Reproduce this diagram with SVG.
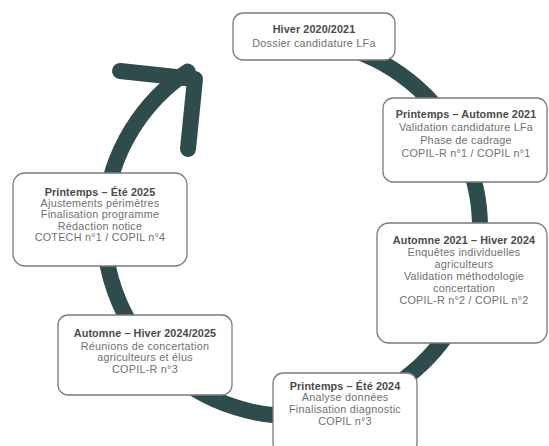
<svg xmlns="http://www.w3.org/2000/svg" width="549" height="446" viewBox="0 0 549 446">
<style>
.ring{fill:none;stroke:#2f4c4c;stroke-width:16;stroke-linecap:round;stroke-linejoin:round}
.box{fill:#fff;stroke:#7a7a7a;stroke-width:1.3}
text{font-family:"Liberation Sans",Arial,sans-serif;font-size:10.8px;letter-spacing:0.25px;fill:#707070;text-anchor:middle}
.h{font-weight:bold;fill:#4a4a4a;letter-spacing:0.1px}
</style>
<rect width="549" height="446" fill="#fff"/>
<g id="connectors">
<path class="ring" d="M 337.5 45.6 A 188 188 0 1 1 187.7 71.6"/>
<polyline class="ring" points="120,71 195,79 188,149"/>
</g>
<g id="n1">
<rect class="box" x="233" y="13" width="162" height="47" rx="10"/>
<text class="h" x="314" y="33">Hiver 2020/2021</text>
<text x="314" y="47">Dossier candidature LFa</text>
</g>
<g id="n2">
<rect class="box" x="383" y="98" width="164" height="84" rx="10"/>
<text class="h" x="466" y="118">Printemps – Automne 2021</text>
<text x="466" y="131">Validation candidature LFa</text>
<text x="466" y="144">Phase de cadrage</text>
<text x="466" y="157">COPIL-R n°1 / COPIL n°1</text>
</g>
<g id="n3">
<rect class="box" x="377" y="223" width="170" height="120" rx="12"/>
<text class="h" x="464" y="244">Automne 2021 – Hiver 2024</text>
<text x="464" y="256">Enquêtes individuelles</text>
<text x="464" y="268">agriculteurs</text>
<text x="464" y="280">Validation méthodologie</text>
<text x="464" y="292">concertation</text>
<text x="464" y="304">COPIL-R n°2 / COPIL n°2</text>
</g>
<g id="n4">
<rect class="box" x="273" y="373" width="144" height="80" rx="10"/>
<text class="h" x="345" y="390">Printemps – Été 2024</text>
<text x="345" y="401">Analyse données</text>
<text x="345" y="413">Finalisation diagnostic</text>
<text x="345" y="425">COPIL n°3</text>
</g>
<g id="n5">
<rect class="box" x="58" y="315" width="174" height="80" rx="10"/>
<text class="h" x="145" y="337">Automne – Hiver 2024/2025</text>
<text x="145" y="350">Réunions de concertation</text>
<text x="145" y="361">agriculteurs et élus</text>
<text x="145" y="373">COPIL-R n°3</text>
</g>
<g id="n6">
<rect class="box" x="13" y="173" width="174" height="93" rx="12"/>
<text class="h" x="100" y="196">Printemps – Été 2025</text>
<text x="100" y="207">Ajustements périmètres</text>
<text x="100" y="218">Finalisation programme</text>
<text x="100" y="230">Rédaction notice</text>
<text x="100" y="241">COTECH n°1 / COPIL n°4</text>
</g>
</svg>
